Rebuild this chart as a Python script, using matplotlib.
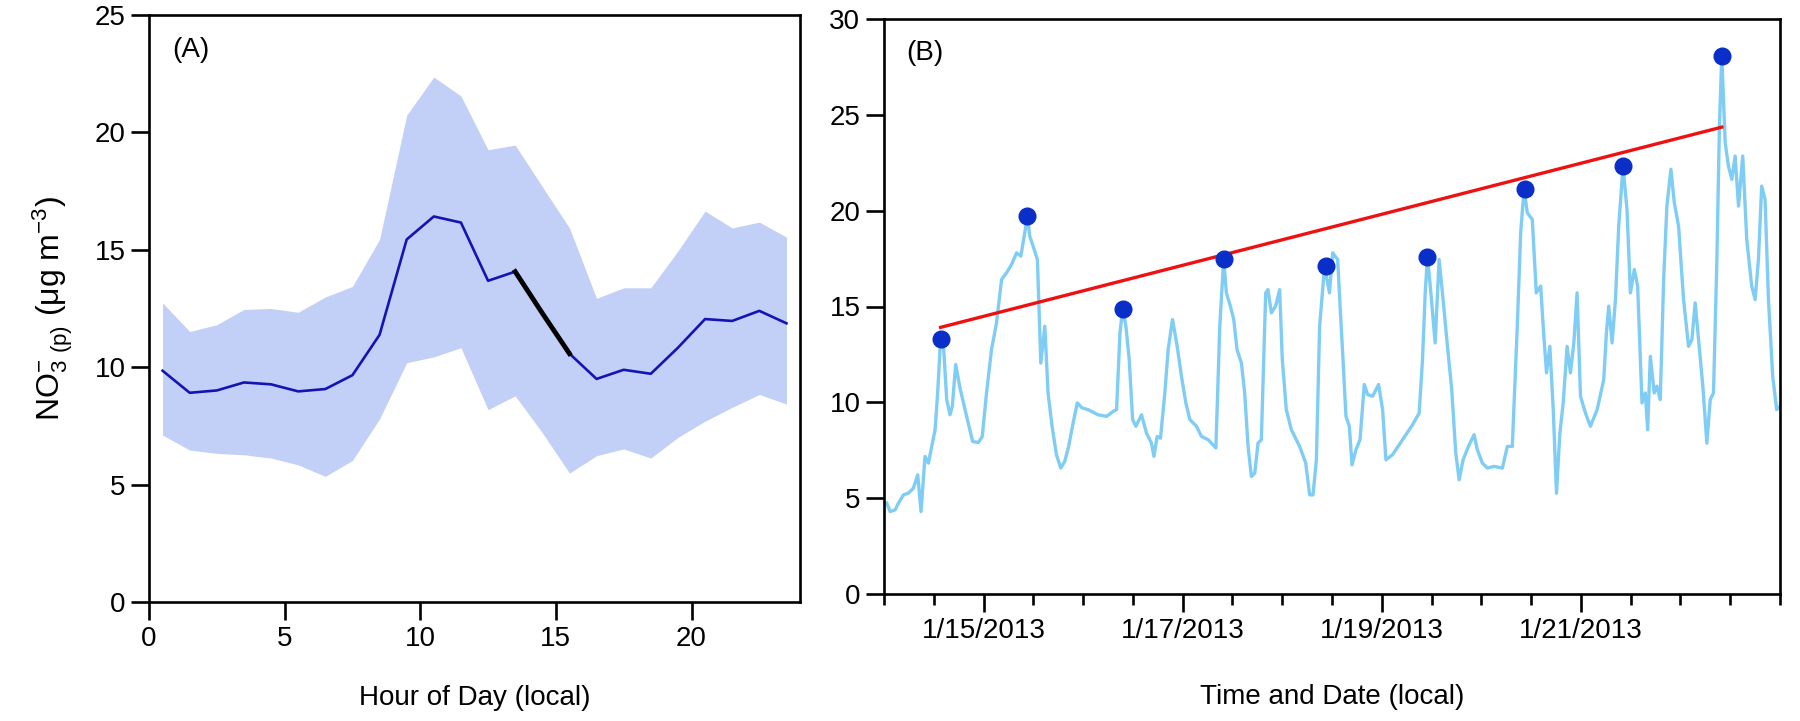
import numpy as np
import matplotlib
matplotlib.use("Agg")
import matplotlib.pyplot as plt
import matplotlib.dates as mdates
from matplotlib.ticker import MultipleLocator, FuncFormatter

plt.rcParams['font.family'] = ['Liberation Sans', 'DejaVu Sans']
plt.rcParams['mathtext.default'] = 'regular'

# ---- panel A: diurnal profile ----
hour = [0.5, 1.5, 2.5, 3.5, 4.5, 5.5, 6.5, 7.5, 8.5, 9.5, 10.5, 11.5,
        12.5, 13.5, 14.5, 15.5, 16.5, 17.5, 18.5, 19.5, 20.5, 21.5, 22.5, 23.5]
no3_mean = [9.85, 8.91, 9.01, 9.35, 9.27, 8.97, 9.07, 9.66, 11.38, 15.44, 16.42, 16.16,
            13.68, 14.07, 12.3, 10.58, 9.50, 9.89, 9.72, 10.83, 12.05, 11.97, 12.40, 11.87]
no3_upper = [12.74, 11.52, 11.81, 12.46, 12.50, 12.34, 12.99, 13.44, 15.44, 20.73, 22.36, 21.55,
             19.26, 19.46, 17.69, 15.93, 12.93, 13.38, 13.38, 14.95, 16.65, 15.93, 16.18, 15.54]
no3_lower = [7.11, 6.47, 6.33, 6.27, 6.13, 5.84, 5.35, 6.03, 7.80, 10.19, 10.44, 10.83,
             8.19, 8.78, 7.21, 5.49, 6.23, 6.52, 6.13, 7.01, 7.70, 8.29, 8.84, 8.43]
highlight_hours = [13.5, 14.5, 15.5]

# ---- panel B: time series (days after 1/14/2013 00:00) ----
ts_days = [0.028, 0.062, 0.112, 0.145, 0.195, 0.245, 0.295, 0.339, 0.372, 0.412, 0.446, 0.479,
           0.513, 0.539, 0.569, 0.596, 0.630, 0.663, 0.686, 0.720, 0.763, 0.830, 0.890, 0.947,
           0.987, 1.030, 1.080, 1.130, 1.181, 1.231, 1.281, 1.331, 1.374, 1.414, 1.441, 1.464,
           1.498, 1.541, 1.575, 1.615, 1.648, 1.688, 1.732, 1.775, 1.815, 1.855, 1.899, 1.942,
           1.989, 2.049, 2.150, 2.236, 2.303, 2.336, 2.370, 2.397, 2.430, 2.463, 2.497, 2.530,
           2.587, 2.637, 2.687, 2.711, 2.744, 2.777, 2.821, 2.854, 2.898, 2.945, 2.988, 3.032,
           3.072, 3.139, 3.189, 3.256, 3.333, 3.373, 3.412, 3.439, 3.479, 3.513, 3.546, 3.590,
           3.623, 3.657, 3.690, 3.724, 3.757, 3.790, 3.834, 3.857, 3.891, 3.934, 3.974, 4.001,
           4.041, 4.092, 4.175, 4.236, 4.276, 4.309, 4.343, 4.376, 4.426, 4.474, 4.507, 4.557,
           4.581, 4.607, 4.640, 4.674, 4.701, 4.741, 4.781, 4.824, 4.858, 4.908, 4.968, 5.008,
           5.042, 5.108, 5.209, 5.309, 5.376, 5.409, 5.436, 5.459, 5.493, 5.536, 5.576, 5.616,
           5.660, 5.703, 5.743, 5.777, 5.817, 5.870, 5.927, 5.960, 6.010, 6.061, 6.127, 6.211,
           6.261, 6.311, 6.361, 6.395, 6.429, 6.462, 6.512, 6.552, 6.596, 6.628, 6.655, 6.688,
           6.722, 6.755, 6.789, 6.822, 6.862, 6.895, 6.929, 6.962, 6.996, 7.046, 7.096, 7.163,
           7.230, 7.256, 7.280, 7.313, 7.347, 7.380, 7.423, 7.463, 7.497, 7.537, 7.570, 7.614,
           7.647, 7.671, 7.697, 7.737, 7.764, 7.797, 7.831, 7.864, 7.904, 7.938, 7.981, 8.031,
           8.081, 8.115, 8.148, 8.182, 8.225, 8.265, 8.299, 8.332, 8.366, 8.392, 8.415, 8.449,
           8.482, 8.516, 8.549, 8.583, 8.626, 8.666, 8.716, 8.750, 8.783, 8.816, 8.850, 8.884,
           8.927, 8.967, 9.000]
ts_vals = [4.74, 4.30, 4.39, 4.74, 5.17, 5.26, 5.52, 6.22, 4.30, 7.18, 6.83, 7.70,
           8.57, 10.49, 13.31, 13.10, 10.14, 9.35, 9.79, 11.97, 10.75, 9.27, 7.96, 7.90,
           8.21, 10.49, 12.75, 14.14, 16.41, 16.76, 17.19, 17.80, 17.63, 18.85, 19.72, 18.67,
           18.15, 17.45, 12.05, 13.97, 10.49, 8.75, 7.27, 6.57, 6.92, 7.70, 8.92, 9.97,
           9.71, 9.62, 9.35, 9.27, 9.53, 9.62, 13.62, 14.88, 13.97, 12.23, 9.10, 8.75,
           9.35, 8.39, 7.87, 7.18, 8.22, 8.13, 10.49, 12.75, 14.32, 12.92, 11.35, 9.97,
           9.10, 8.75, 8.22, 8.05, 7.62, 13.97, 17.48, 15.71, 15.02, 14.32, 12.75, 12.05,
           10.49, 7.70, 6.13, 6.31, 7.87, 8.05, 15.71, 15.88, 14.67, 15.02, 15.88, 12.23,
           9.62, 8.57, 7.70, 6.83, 5.17, 5.17, 7.00, 13.97, 17.11, 15.71, 17.80, 17.45,
           15.02, 12.58, 9.27, 8.75, 6.74, 7.53, 8.05, 10.93, 10.40, 10.32, 10.93, 9.62,
           7.00, 7.27, 8.05, 8.83, 9.44, 12.23, 15.71, 17.60, 15.71, 13.10, 17.45, 15.36,
           12.92, 10.66, 7.35, 5.96, 7.00, 7.70, 8.31, 7.53, 6.83, 6.57, 6.66, 6.57,
           7.70, 7.70, 13.97, 18.85, 21.12, 19.89, 19.54, 15.71, 16.06, 13.45, 11.54, 12.92,
           9.62, 5.26, 8.40, 9.97, 12.92, 11.54, 13.10, 15.71, 10.32, 9.44, 8.75, 9.62,
           11.19, 13.62, 15.02, 13.10, 15.36, 19.19, 22.30, 20.07, 15.71, 16.93, 16.06, 9.97,
           10.49, 8.57, 12.40, 10.49, 10.84, 10.14, 16.41, 20.24, 22.16, 20.42, 19.19, 15.36,
           12.92, 13.27, 15.19, 13.27, 10.84, 7.87, 10.14, 10.49, 17.45, 24.42, 28.07, 23.55,
           22.33, 21.63, 22.85, 20.24, 22.85, 18.50, 16.06, 15.36, 17.45, 21.28, 20.59, 15.36,
           11.35, 9.62, 9.79]

# daily peak values (blue dots)
peak_days = [0.569, 1.441, 2.397, 3.412, 4.435, 5.459, 6.435, 7.423, 8.415]
peak_vals = [13.33, 19.74, 14.88, 17.48, 17.10, 17.60, 21.12, 22.31, 28.07]

start = np.datetime64('2013-01-14T00:00')


def to_time(days):
    return start + (np.asarray(days) * 1440).round().astype('timedelta64[m]')


fig = plt.figure(figsize=(18, 7.21), dpi=100)
ax1 = fig.add_axes([149 / 1800, 1 - 602 / 721, 651 / 1800, 587 / 721])
ax2 = fig.add_axes([884 / 1800, 1 - 594 / 721, 896 / 1800, 575 / 721])

fs = 20
for ax in (ax1, ax2):
    for s in ax.spines.values():
        s.set_linewidth(1.9)
    ax.tick_params(which='major', direction='out', length=13, width=1.9,
                   labelsize=fs, pad=4)

# panel A
ax1.fill_between(hour, no3_lower, no3_upper, color='#c2d0f8', lw=0)
ax1.plot(hour, no3_mean, color='#1414b4', lw=1.9)
hl = [hour.index(h) for h in highlight_hours]
ax1.plot(hour[hl[0]:hl[-1] + 1], no3_mean[hl[0]:hl[-1] + 1], color='black', lw=3.5)
ax1.set_xlim(0, 24)
ax1.set_ylim(0, 25)
ax1.xaxis.set_major_locator(MultipleLocator(5))
ax1.yaxis.set_major_locator(MultipleLocator(5))
ax1.set_xlabel('Hour of Day (local)', fontsize=fs, labelpad=24)
ax1.set_ylabel(r'NO$_{3\ (p)}^{-}$ (μg m$^{-3}$)', fontsize=23, labelpad=14)
ax1.text(0.035, 0.94, '(A)', transform=ax1.transAxes, fontsize=fs, va='center')

# panel B
ax2.plot(to_time(ts_days), ts_vals, color='#7fcdf4', lw=2.4)
pk_t = to_time(peak_days)
fit = np.polyfit(peak_days, peak_vals, 1)
fit_days = np.array([peak_days[0], peak_days[-1]])
ax2.plot(to_time(fit_days), np.polyval(fit, fit_days), color='#ee1111', lw=2.4)
ax2.plot(pk_t, peak_vals, 'o', color='#0a2ec8', ms=12, mec='#0a2ec8')
ax2.set_xlim(start, start + np.timedelta64(9, 'D'))
ax2.set_ylim(0, 30)
ax2.yaxis.set_major_locator(MultipleLocator(5))
ax2.xaxis.set_major_locator(mdates.DayLocator(bymonthday=[15, 17, 19, 21]))
ax2.xaxis.set_minor_locator(mdates.HourLocator(byhour=[0, 12]))


def date_label(x, pos):
    d = mdates.num2date(x)
    return f'{d.month}/{d.day}/{d.year}'


ax2.xaxis.set_major_formatter(FuncFormatter(date_label))
ax2.tick_params(which='minor', direction='out', length=8, width=1.9)
ax2.set_xlabel('Time and Date (local)', fontsize=fs, labelpad=29)
ax2.text(0.025, 0.94, '(B)', transform=ax2.transAxes, fontsize=fs, va='center')

fig.savefig('out.png', dpi=100)
